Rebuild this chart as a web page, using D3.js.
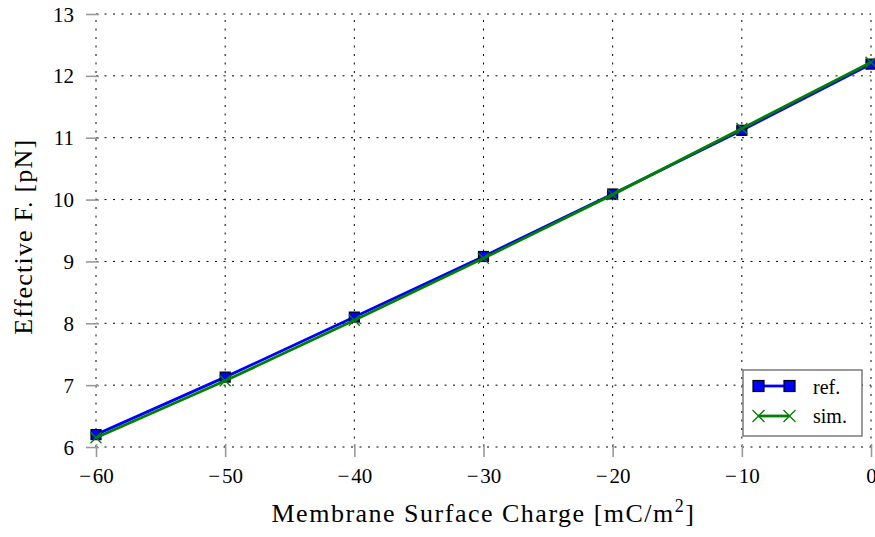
<!DOCTYPE html>
<html>
<head>
<meta charset="utf-8">
<script src="https://cdn.jsdelivr.net/npm/d3@7"></script>
<style>
  html, body { margin: 0; padding: 0; background: #fff; }
  svg { display: block; }
  text { font-family: "Liberation Serif", "DejaVu Serif", serif; fill: #000; }
</style>
</head>
<body>
<svg id="chart" width="875" height="537"></svg>
<script>
// Surface charge values (mC/m^2)
const charges = [-60, -50, -40, -30, -20, -10, 0];
// Effective force, reference solution (pN)
const refForce = [6.2, 7.13, 8.1, 9.08, 10.09, 11.12, 12.19];
// Effective force, simulation (pN)
const simForce = [6.15, 7.07, 8.05, 9.05, 10.08, 11.15, 12.22];
const xTicks = [-60, -50, -40, -30, -20, -10, 0];
const yTicks = [6, 7, 8, 9, 10, 11, 12, 13];
const seriesNames = ["ref.", "sim."];

const svg = d3.select("#chart");
const margin = { left: 96, right: 4, top: 14, bottom: 90 };
const W = 875, H = 537;

const x = d3.scaleLinear().domain([-60, 0]).range([margin.left, W - margin.right]);
const y = d3.scaleLinear().domain([6, 13]).range([H - margin.bottom, margin.top]);

// math-style minus with a hair of room after it
const fmt = d => (d < 0 ? "\u2212\u200A" + Math.abs(d) : String(d));

// dotted grid
const grid = svg.append("g");
grid.selectAll("line.gx").data(xTicks).join("line")
  .attr("x1", d => x(d)).attr("x2", d => x(d))
  .attr("y1", y(6)).attr("y2", y(13))
  .attr("stroke", "#000").attr("stroke-width", 1)
  .attr("stroke-dasharray", "2,6.5");
grid.selectAll("line.gy").data(yTicks).join("line")
  .attr("y1", d => y(d)).attr("y2", d => y(d))
  .attr("x1", x(-60)).attr("x2", x(0))
  .attr("stroke", "#000").attr("stroke-width", 1)
  .attr("stroke-dasharray", "2,6.5");

// axes: grey outward ticks, no axis line
const xAxis = svg.append("g")
  .attr("transform", `translate(0,${y(6)})`)
  .call(d3.axisBottom(x).tickValues(xTicks).tickFormat(fmt).tickSize(10));
const yAxis = svg.append("g")
  .attr("transform", `translate(${x(-60)},0)`)
  .call(d3.axisLeft(y).tickValues(yTicks).tickFormat(fmt).tickSize(10));
[xAxis, yAxis].forEach(a => {
  a.select(".domain").remove();
  a.selectAll(".tick text")
    .style("font-family", '"Liberation Serif", "DejaVu Serif", serif')
    .style("font-size", "21px").attr("fill", "#000");
});
xAxis.selectAll(".tick line").attr("y1", -3).attr("y2", 10)
  .attr("stroke", "#999").attr("stroke-width", 1.6);
yAxis.selectAll(".tick line").attr("x1", 3).attr("x2", -10)
  .attr("stroke", "#999").attr("stroke-width", 1.6);
xAxis.selectAll(".tick text").attr("y", 36).attr("dy", 0);
yAxis.selectAll(".tick text").attr("x", -22).attr("dy", "0.34em");

// data series
const line = d3.line().x(d => x(d[0])).y(d => y(d[1]));
const refPts = charges.map((c, i) => [c, refForce[i]]);
const simPts = charges.map((c, i) => [c, simForce[i]]);

const blue = "#0000ff", green = "#008000";

svg.append("path").datum(refPts).attr("d", line)
  .attr("fill", "none").attr("stroke", blue).attr("stroke-width", 2.8);
const sq = 10;
svg.append("g").selectAll("rect").data(refPts).join("rect")
  .attr("x", d => x(d[0]) - sq / 2).attr("y", d => y(d[1]) - sq / 2)
  .attr("width", sq).attr("height", sq)
  .attr("fill", blue).attr("stroke", "#000").attr("stroke-width", 1.2);

svg.append("path").datum(simPts).attr("d", line)
  .attr("fill", "none").attr("stroke", green).attr("stroke-width", 2.8);
const cross = (g, cx, cy, r) => g.append("path")
  .attr("d", `M${cx - r},${cy - r}L${cx + r},${cy + r}M${cx - r},${cy + r}L${cx + r},${cy - r}`)
  .attr("stroke", green).attr("stroke-width", 1.3).attr("fill", "none");
const crossG = svg.append("g");
simPts.forEach(d => cross(crossG, x(d[0]), y(d[1]), 5.5));

// legend
const lg = svg.append("g").attr("transform", "translate(743,370)");
lg.append("rect").attr("x", 0).attr("y", 0).attr("width", 119).attr("height", 66)
  .attr("fill", "#fff").attr("stroke", "#666").attr("stroke-width", 1.3);
lg.append("line").attr("x1", 15.5).attr("x2", 46.5).attr("y1", 16).attr("y2", 16)
  .attr("stroke", blue).attr("stroke-width", 2.8);
[15.5, 46.5].forEach(cx => lg.append("rect")
  .attr("x", cx - 5.5).attr("y", 10.5).attr("width", 11).attr("height", 11)
  .attr("fill", blue).attr("stroke", "#000").attr("stroke-width", 1.2));
lg.append("text").attr("x", 70).attr("y", 24).style("font-size", "20px").text(seriesNames[0]);
lg.append("line").attr("x1", 15.5).attr("x2", 46.5).attr("y1", 46).attr("y2", 46)
  .attr("stroke", green).attr("stroke-width", 2.8);
[15.5, 46.5].forEach(cx => cross(lg, cx, 46, 6));
lg.append("text").attr("x", 70).attr("y", 53).style("font-size", "20px").text(seriesNames[1]);

// axis titles
const xt = svg.append("text").attr("x", x(-30)).attr("y", 522)
  .attr("text-anchor", "middle").style("font-size", "26px")
  .style("letter-spacing", "1.5px");
xt.append("tspan").text("Membrane Surface Charge [mC/m");
xt.append("tspan").attr("dy", -10).style("font-size", "18px").text("2");
xt.append("tspan").attr("dy", 10).text("]");

svg.append("text")
  .attr("transform", `translate(32,${y(9.4)}) rotate(-90)`)
  .attr("text-anchor", "middle").style("font-size", "26px")
  .style("letter-spacing", "1.2px")
  .text("Effective F. [pN]");
</script>
</body>
</html>
